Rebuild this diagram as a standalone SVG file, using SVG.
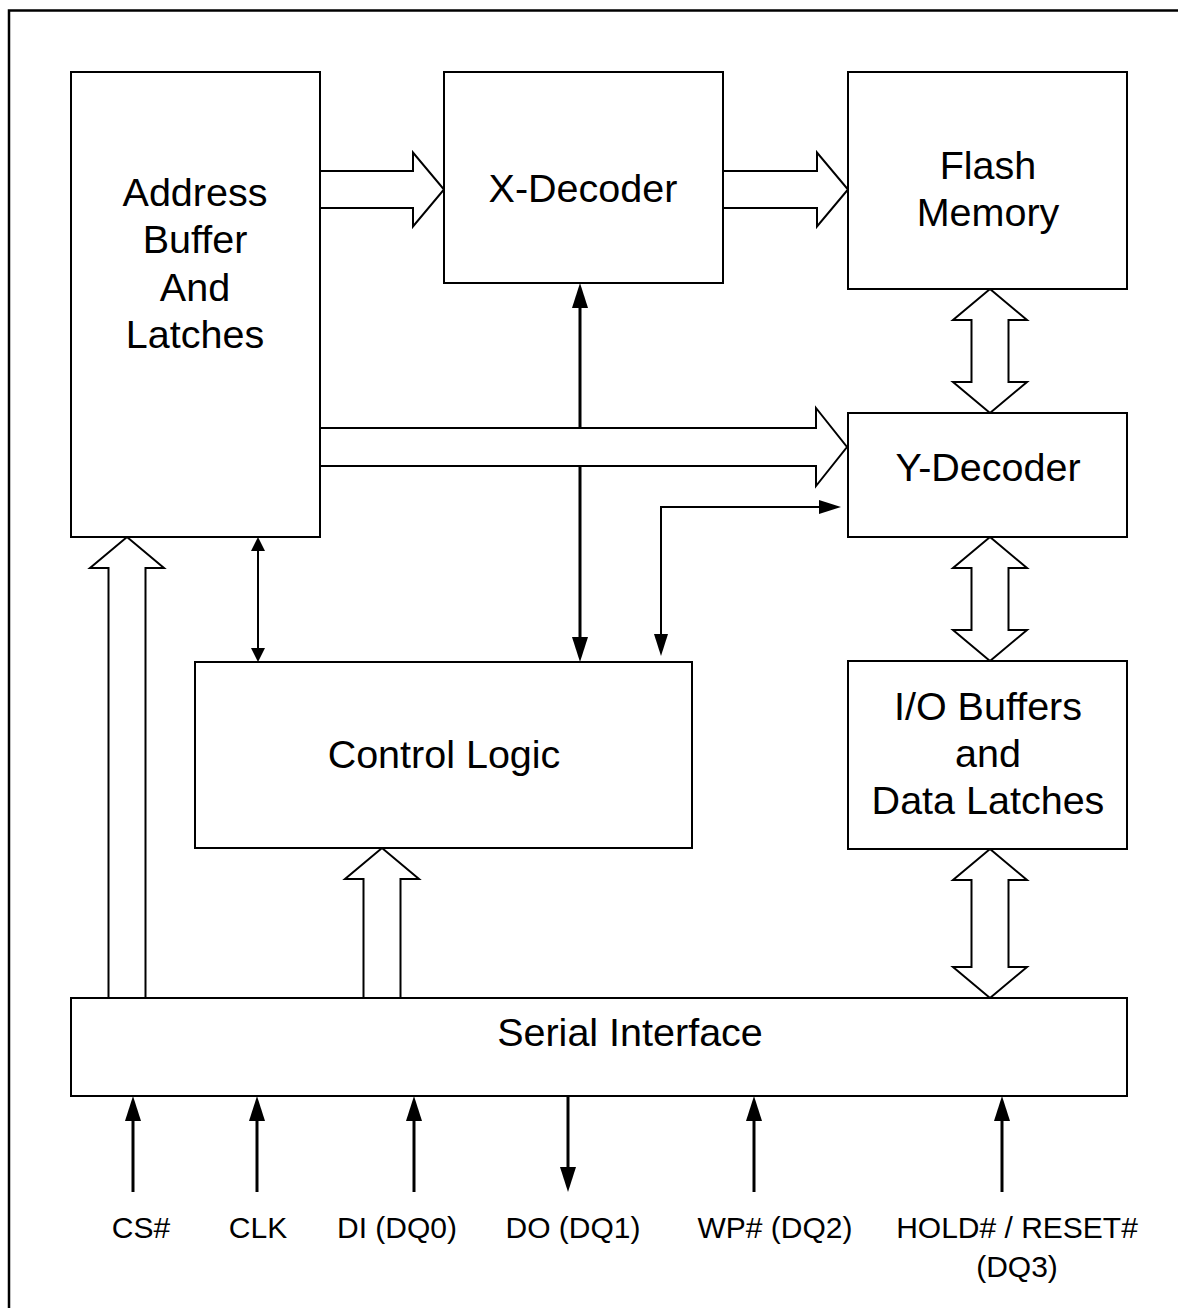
<svg xmlns="http://www.w3.org/2000/svg" width="1178" height="1308" viewBox="0 0 1178 1308">
<defs>
<style>
.box{fill:#fff;stroke:#000;stroke-width:2}
.fat{fill:#fff;stroke:#000;stroke-width:2;stroke-linejoin:miter}
.t{font-family:"Liberation Sans",Arial,sans-serif;font-size:39.5px;fill:#000;text-anchor:middle}
.p{font-family:"Liberation Sans",Arial,sans-serif;font-size:30px;fill:#000;text-anchor:middle}
.bold{fill:none;stroke:#000;stroke-width:3}
.thin{fill:none;stroke:#000;stroke-width:2}
</style>
<marker id="ab" markerUnits="userSpaceOnUse" markerWidth="25" markerHeight="16" viewBox="0 0 25 16" refX="15" refY="8" orient="auto-start-reverse"><path d="M0,0 L25,8 L0,16 z" fill="#000"/></marker>
<marker id="as" markerUnits="userSpaceOnUse" markerWidth="14" markerHeight="14" viewBox="0 0 14 14" refX="8" refY="7" orient="auto-start-reverse"><path d="M0,0 L14,7 L0,14 z" fill="#000"/></marker>
<marker id="am" markerUnits="userSpaceOnUse" markerWidth="22" markerHeight="14" viewBox="0 0 22 14" refX="14" refY="7" orient="auto-start-reverse"><path d="M0,0 L22,7 L0,14 z" fill="#000"/></marker>
</defs>
<rect x="0" y="0" width="1178" height="1308" fill="#fff"/>
<rect x="9" y="10.5" width="1300" height="1400" fill="none" stroke="#000" stroke-width="2.5"/>

<g id="connectors">
<line class="bold" x1="580" y1="293" x2="580" y2="652" marker-start="url(#ab)" marker-end="url(#ab)"/>
<line class="thin" x1="258" y1="543" x2="258" y2="656" marker-start="url(#as)" marker-end="url(#as)"/>
<polyline class="thin" points="661,648 661,507 833,507" marker-start="url(#am)" marker-end="url(#am)"/>
<polyline class="fat" points="320,171 413,171 413,152.5 444,189.5 413,226.5 413,208 320,208"/>
<polyline class="fat" points="723,171 817,171 817,152.5 848,189.5 817,226.5 817,208 723,208"/>
<polyline class="fat" points="320,428 816,428 816,408 847,447 816,486 816,466 320,466"/>
<polygon class="fat" points="990,289 1027,320 1008.5,320 1008.5,382 1027,382 990,413 953,382 971.5,382 971.5,320 953,320"/>
<polygon class="fat" points="990,537 1027,568 1008.5,568 1008.5,630 1027,630 990,661 953,630 971.5,630 971.5,568 953,568"/>
<polygon class="fat" points="990,849 1027,880 1008.5,880 1008.5,967 1027,967 990,998 953,967 971.5,967 971.5,880 953,880"/>
<polyline class="fat" points="108.5,998 108.5,568 90,568 127,537 164,568 145.5,568 145.5,998"/>
<polyline class="fat" points="363.5,998 363.5,879 345,879 382,848 419,879 400.5,879 400.5,998"/>
<line class="bold" x1="133" y1="1192" x2="133" y2="1106" marker-end="url(#ab)"/>
<line class="bold" x1="257" y1="1192" x2="257" y2="1106" marker-end="url(#ab)"/>
<line class="bold" x1="414" y1="1192" x2="414" y2="1106" marker-end="url(#ab)"/>
<line class="bold" x1="568" y1="1096" x2="568" y2="1182" marker-end="url(#ab)"/>
<line class="bold" x1="754" y1="1192" x2="754" y2="1106" marker-end="url(#ab)"/>
<line class="bold" x1="1002" y1="1192" x2="1002" y2="1106" marker-end="url(#ab)"/>
</g>

<g id="address-buffer">
<rect class="box" x="71" y="72" width="249" height="465"/>
<text class="t" x="195" y="206">Address</text>
<text class="t" x="195" y="253">Buffer</text>
<text class="t" x="195" y="301">And</text>
<text class="t" x="195" y="348">Latches</text>
</g>
<g id="x-decoder">
<rect class="box" x="444" y="72" width="279" height="211"/>
<text class="t" x="583" y="202">X-Decoder</text>
</g>
<g id="flash-memory">
<rect class="box" x="848" y="72" width="279" height="217"/>
<text class="t" x="988" y="179">Flash</text>
<text class="t" x="988" y="226">Memory</text>
</g>
<g id="y-decoder">
<rect class="box" x="848" y="413" width="279" height="124"/>
<text class="t" x="988" y="481">Y-Decoder</text>
</g>
<g id="control-logic">
<rect class="box" x="195" y="662" width="497" height="186"/>
<text class="t" x="444" y="768">Control Logic</text>
</g>
<g id="io-buffers">
<rect class="box" x="848" y="661" width="279" height="188"/>
<text class="t" x="988" y="720">I/O Buffers</text>
<text class="t" x="988" y="767">and</text>
<text class="t" x="988" y="814">Data Latches</text>
</g>
<g id="serial-interface">
<rect class="box" x="71" y="998" width="1056" height="98"/>
<text class="t" x="630" y="1046">Serial Interface</text>
</g>
<g id="pins">
<text class="p" x="141" y="1238">CS#</text>
<text class="p" x="258" y="1238">CLK</text>
<text class="p" x="397" y="1238">DI (DQ0)</text>
<text class="p" x="573" y="1238">DO (DQ1)</text>
<text class="p" x="775" y="1238">WP# (DQ2)</text>
<text class="p" x="1017" y="1238">HOLD# / RESET#</text>
<text class="p" x="1017" y="1277">(DQ3)</text>
</g>
</svg>
